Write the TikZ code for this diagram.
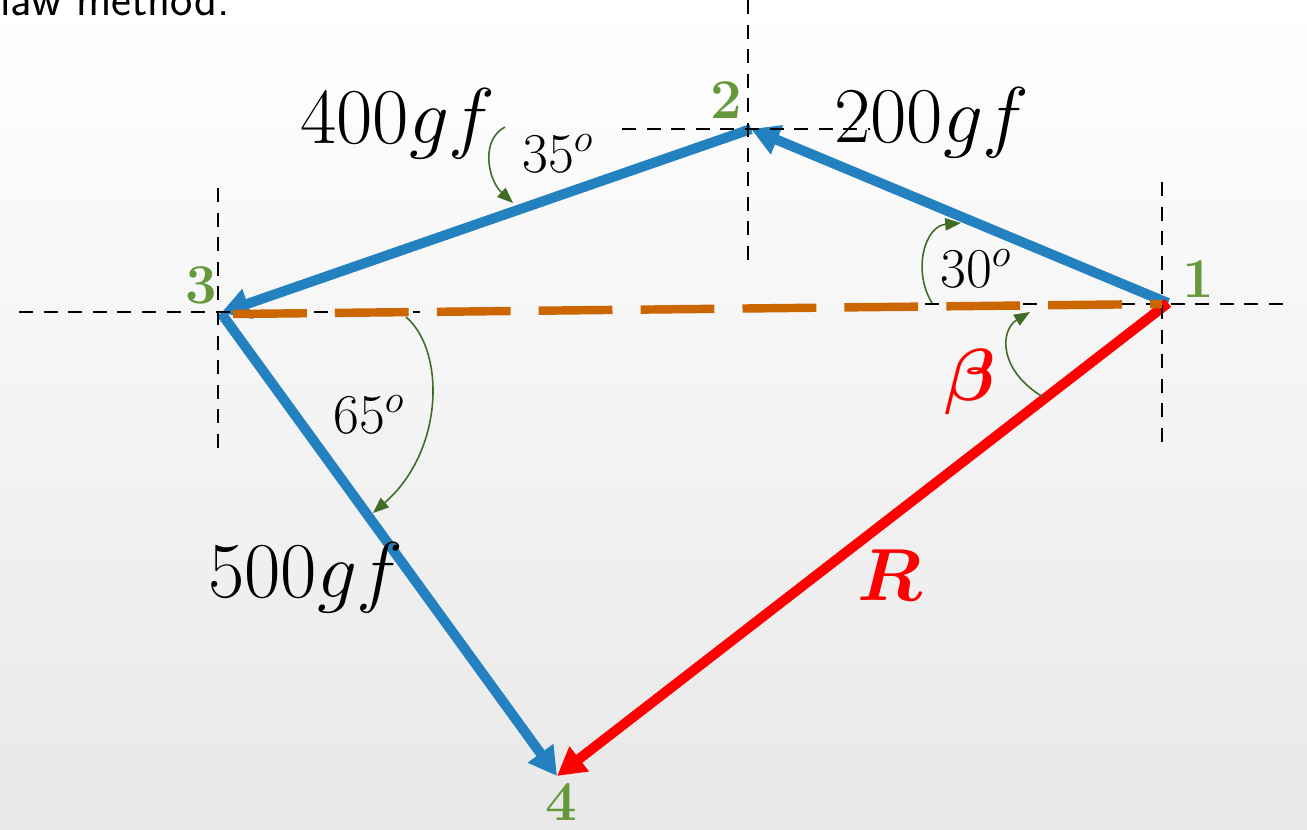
\RequirePackage{fix-cm}
\documentclass[tikz,border=0pt]{standalone}
\usepackage{amsmath,amssymb}
\usetikzlibrary{arrows.meta,positioning}
\definecolor{forceblue}{RGB}{36,129,192}
\definecolor{resred}{RGB}{255,0,0}
\definecolor{lineorange}{RGB}{204,102,0}
\definecolor{ptgreen}{RGB}{100,152,58}
\definecolor{arcgreen}{RGB}{65,108,38}
\tikzset{
  force/.style={line width=5.7pt, draw=forceblue, -{Triangle[length=16pt,width=17pt]}},
  result/.style={line width=5.7pt, draw=resred, -{Triangle[length=16pt,width=17pt]}},
  guide/.style={line width=1.1pt, dash pattern=on 8pt off 6pt},
  closing/.style={line width=4.8pt, draw=lineorange, dash pattern=on 42pt off 16pt},
  anglearrow/.style={line width=0.9pt, draw=arcgreen, -{Triangle[length=9pt,width=7pt]}},
  forcelabel/.style={inner sep=0pt, anchor=base west, font=\fontsize{45}{50}\selectfont},
  anglelabel/.style={inner sep=0pt, anchor=base west, font=\fontsize{32}{36}\selectfont},
  ptlabel/.style={inner sep=0pt, anchor=base west, text=ptgreen, font=\fontsize{32}{36}\selectfont\bfseries},
  redlabel/.style={inner sep=0pt, text=resred, font=\fontsize{42}{46}\selectfont}
}
\begin{document}
\begin{tikzpicture}[x=0.02cm, y=-0.02cm]
  \useasboundingbox (0,0) rectangle (1307,829);
  \shade[top color=white, bottom color=black!9] (0,0) rectangle (1307,829);
  % Caption text cut off at the top
  \node[inner sep=0pt, anchor=base west, font=\sffamily\fontsize{27}{30}\selectfont] (caption) at (0,15) {law method.};
  % Points of the polygon
  \coordinate (p1) at (1168,303);
  \coordinate (p2) at (751,129);
  \coordinate (p3) at (221,313);
  \coordinate (p4) at (557,776);
  % Force vectors
  \draw[force] (p1) -- (p2);
  \draw[force] (p2) -- (p3);
  \draw[force] (p3) -- (p4);
  % Resultant
  \draw[result] (p1) -- (p4);
  % Guide lines
  \draw[guide] (622,129) -- (870,129);
  \draw[guide] (748,0) -- (748,270);
  \draw[guide] (19,312) -- (420,312);
  \draw[guide] (218,188) -- (218,452);
  \draw[guide] (900,304) -- (1293,304);
  \draw[guide] (1162,182) -- (1162,445);
  % Closing line 3 -- 1
  \coordinate (c3) at (233,314);
  \coordinate (c1) at (1162,304);
  \draw[closing] (c3) -- (c1);
  % Angle arrows
  \coordinate (a35s) at (505,127);
  \coordinate (a35e) at (513,203);
  \draw[anglearrow] (a35s) .. controls (480,140) and (488,180) .. (a35e);
  \coordinate (a30s) at (932,303);
  \coordinate (a30e) at (961,223);
  \draw[anglearrow] (a30s) .. controls (912,270) and (925,226) .. (a30e);
  \coordinate (a65s) at (406,317);
  \coordinate (a65e) at (373,513);
  \draw[anglearrow] (a65s) .. controls (445,350) and (445,450) .. (a65e);
  \coordinate (abs) at (1043,397);
  \coordinate (abe) at (1030,312);
  \draw[anglearrow] (abs) .. controls (998,370) and (1000,330) .. (abe);
  % Force labels
  \node[forcelabel] (f400) at (300,143) {$400gf$};
  \node[forcelabel] (f200) at (834,142) {$200gf$};
  \node[forcelabel] (f500) at (208,597) {$500gf$};
  % Angle labels
  \node[anglelabel] (t35) at (522,172) {$35^o$};
  \node[anglelabel] (t30) at (940,287) {$30^o$};
  \node[anglelabel] (t65) at (333,433) {$65^o$};
  \node[redlabel] (beta) at (970,382) {$\boldsymbol{\beta}$};
  \node[redlabel] (res) at (890,575) {$\boldsymbol{R}$};
  % Point numbers
  \node[ptlabel] (n1) at (1182,297) {1};
  \node[ptlabel] (n2) at (710,118) {2};
  \node[ptlabel] (n3) at (185,303) {3};
  \node[ptlabel] (n4) at (545,820) {4};
\end{tikzpicture}
\end{document}
